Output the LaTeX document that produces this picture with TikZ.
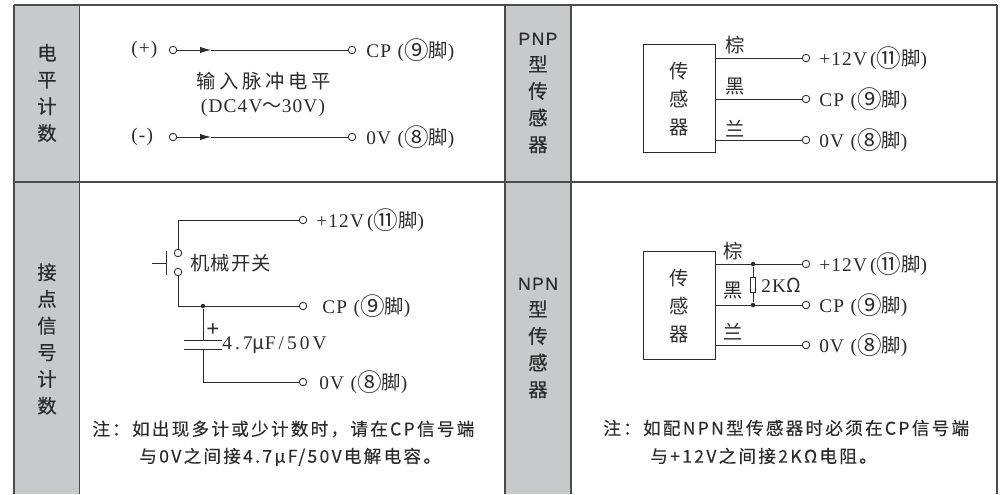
\documentclass[tikz,border=0pt]{standalone}
\usepackage{fontspec}
\setmainfont{Liberation Serif}[LetterSpace=6]
\newfontfamily\cjk{Noto Sans CJK SC}
\newfontfamily\cjkside{Noto Sans CJK SC}[FakeBold=0.5]
\newfontfamily\cjkwide{Noto Sans CJK SC}[LetterSpace=19]
\newfontfamily\cjkhint{Noto Sans CJK SC}[LetterSpace=6]
\newfontfamily\cjknote{Noto Sans CJK SC}[LetterSpace=13,FakeBold=0.25]
\newfontfamily\serifwide{Liberation Serif}[LetterSpace=16]
\newfontfamily\sideletters{Liberation Sans}[LetterSpace=8,FakeBold=0.3]
\usetikzlibrary{arrows.meta}
\definecolor{sidegrey}{HTML}{C8C9CA}
\definecolor{ink}{HTML}{2B2B2B}
\newcommand{\pintext}[3]{#1#3\,({\cjk\raisebox{-0.08em}{\fontsize{14}{12}\selectfont #2}脚})}
\tikzset{
	rule/.style={draw=ink!85,line width=0.8pt},
	wire/.style={draw=ink,line width=0.5pt},
	term/.style={circle,draw=ink,fill=white,line width=0.5pt,minimum size=0.15cm,inner sep=0pt},
	joint/.style={circle,fill=ink,minimum size=0.09cm,inner sep=0pt},
	sidelabel/.style={align=center,inner sep=0pt,text=ink,font=\fontsize{11}{15.2}\selectfont\cjkside},
	namelabel/.style={align=center,inner sep=0pt,text=ink,font=\fontsize{11}{16}\selectfont\cjk},
	caption/.style={inner sep=0pt,text=ink,font=\fontsize{11}{12}\selectfont\cjk},
	pinlabel/.style={anchor=west,inner sep=0pt,text=ink,font=\fontsize{11}{12}\selectfont},
	note/.style={anchor=west,inner sep=0pt,text=ink,font=\fontsize{10}{12}\selectfont\cjknote},
	sensor/.style={draw=ink,line width=0.5pt,minimum width=1.44cm,minimum height=2.16cm,inner sep=0pt,anchor=north west},
}
\begin{document}
\begin{tikzpicture}[x=0.02cm,y=-0.02cm]
	\useasboundingbox (0,0) rectangle (1004,494);
	% Table
	\fill[sidegrey] (14,5) rectangle (79.5,494);
	\fill[sidegrey] (505,5) rectangle (571,494);
	\foreach \xpos in {14,79.5,505,571,997}
		\draw[rule] (\xpos,5) -- (\xpos,494);
	\draw[rule] (14,5) -- (997,5);
	\draw[rule] (14,182) -- (997,182);
	% Side labels
	\node[sidelabel] (levelside) at (47,93) {电\\平\\计\\数};
	\node[sidelabel] (contactside) at (47,339) {接\\点\\信\\号\\计\\数};
	\node[sidelabel] (pnpside) at (538,93) {{\sideletters\fontsize{10}{12}\selectfont PNP}\\型\\传\\感\\器};
	\node[sidelabel] (npnside) at (538,338) {{\sideletters\fontsize{10}{12}\selectfont NPN}\\型\\传\\感\\器};
	% Level input
	\node[term] (plusin) at (173,50) {};
	\node[term] (plusout) at (352,50) {};
	\node[term] (minusin) at (173,137) {};
	\node[term] (minusout) at (352,137) {};
	\coordinate (plustip) at (211,50);
	\coordinate (minustip) at (211,137);
	\draw[wire,-{Latex[length=0.22cm,width=0.13cm]}] (plusin) -- (plustip);
	\draw[wire] (plustip) -- (plusout);
	\draw[wire,-{Latex[length=0.22cm,width=0.13cm]}] (minusin) -- (minustip);
	\draw[wire] (minustip) -- (minusout);
	\node[pinlabel] (pluslabel) at (131,50) {(+)};
	\node[pinlabel] (minuslabel) at (131,137) {(-)};
	\node[pinlabel] (plusname) at (366,50) {\pintext{CP}{⑨}{\,}};
	\node[pinlabel] (minusname) at (366,137) {\pintext{0V}{⑧}{\,}};
	\node[caption] (levelcaption) at (264,81) {\cjkwide 输入脉冲电平};
	\node[pinlabel,anchor=center] (levelrange) at (263,108) {(DC4V{\cjk～}30V)};
	% Contact input
	\node[term] (powerout) at (303,220) {};
	\node[term] (cpout) at (303,306) {};
	\node[term] (zeroout) at (303,382) {};
	\node[term] (switchtop) at (178,253) {};
	\node[term] (switchbottom) at (178,272) {};
	\node[joint] (capjoint) at (203,306) {};
	\coordinate (captop) at (203,340);
	\coordinate (capbottom) at (203,349);
	\draw[wire] (switchtop) |- (powerout);
	\draw[wire] (switchbottom) |- (cpout);
	\draw[wire] (capjoint) -- (captop);
	\draw[wire] (capbottom) |- (zeroout);
	\draw[wire] ([xshift=-11]captop) -- ([xshift=11]captop);
	\draw[wire] ([xshift=-11]capbottom) -- ([xshift=11]capbottom);
	\coordinate (leverend) at (152,263);
	\coordinate (levermid) at (166,263);
	\draw[wire] (leverend) -- (levermid);
	\draw[wire] (166,251) -- (166,275);
	\node[pinlabel] (switchname) at (190,263) {\cjkhint 机械开关};
	\node[pinlabel] (powername) at (316,220) {\pintext{+12V}{⑪}{}};
	\node[pinlabel] (cpname) at (322,306) {\pintext{CP}{⑨}{\,}};
	\node[pinlabel] (zeroname) at (319,382) {\pintext{0V}{⑧}{\,}};
	\node[inner sep=0pt,text=ink,font=\bfseries\fontsize{13}{12}\selectfont] (capplus) at (213,330) {+};
	\node[pinlabel] (capname) at (222,345) {\serifwide 4.7{\cjk μ}F/50V};
	\node[note] (contactnote) at (92,429) {注：如出现多计或少计数时，请在CP信号端};
	\node[note] (contactnotetwo) at (139,457) {与0V之间接4.7μF/50V电解电容。};
	% PNP sensor
	\node[sensor] (pnpbox) at (643,44) {};
	\node[namelabel] (pnpname) at (679,99) {传\\感\\器};
	\node[term] (pnpa) at (806,58) {};
	\node[term] (pnpb) at (806,99) {};
	\node[term] (pnpc) at (806,140) {};
	\draw[wire] (pnpa) -- (pnpa-|pnpbox.east);
	\draw[wire] (pnpb) -- (pnpb-|pnpbox.east);
	\draw[wire] (pnpc) -- (pnpc-|pnpbox.east);
	\node[caption] (pnpbrown) at (735,45) {棕};
	\node[caption] (pnpblack) at (735,87) {黑};
	\node[caption] (pnpblue) at (735,129) {兰};
	\node[pinlabel] (pnpaname) at (819,58) {\pintext{+12V}{⑪}{}};
	\node[pinlabel] (pnpbname) at (819,99) {\pintext{CP}{⑨}{\,}};
	\node[pinlabel] (pnpcname) at (819,140) {\pintext{0V}{⑧}{\,}};
	% NPN sensor
	\node[sensor] (npnbox) at (643,251) {};
	\node[namelabel] (npnname) at (679,306) {传\\感\\器};
	\node[term] (npna) at (806,264) {};
	\node[term] (npnb) at (806,305) {};
	\node[term] (npnc) at (806,345) {};
	\draw[wire] (npna) -- (npna-|npnbox.east);
	\draw[wire] (npnb) -- (npnb-|npnbox.east);
	\draw[wire] (npnc) -- (npnc-|npnbox.east);
	\node[joint] (pullupa) at (753,264) {};
	\node[joint] (pullupb) at (753,305) {};
	\node[draw=ink,fill=white,line width=0.5pt,minimum width=0.11cm,minimum height=0.29cm,inner sep=0pt] (pullup) at (753,285) {};
	\draw[wire] (pullupa) -- (pullup);
	\draw[wire] (pullup) -- (pullupb);
	\node[caption] (npnbrown) at (733,251) {棕};
	\node[caption] (npnblack) at (733,291) {黑};
	\node[caption] (npnblue) at (733,332) {兰};
	\node[pinlabel] (pullupname) at (761,285) {2K{\cjk Ω}};
	\node[pinlabel] (npnaname) at (819,264) {\pintext{+12V}{⑪}{}};
	\node[pinlabel] (npnbname) at (819,305) {\pintext{CP}{⑨}{\,}};
	\node[pinlabel] (npncname) at (819,345) {\pintext{0V}{⑧}{\,}};
	\node[note] (npnnote) at (603,428) {注：如配NPN型传感器时必须在CP信号端};
	\node[note] (npnnotetwo) at (650,456) {与+12V之间接2KΩ电阻。};
\end{tikzpicture}
\end{document}
